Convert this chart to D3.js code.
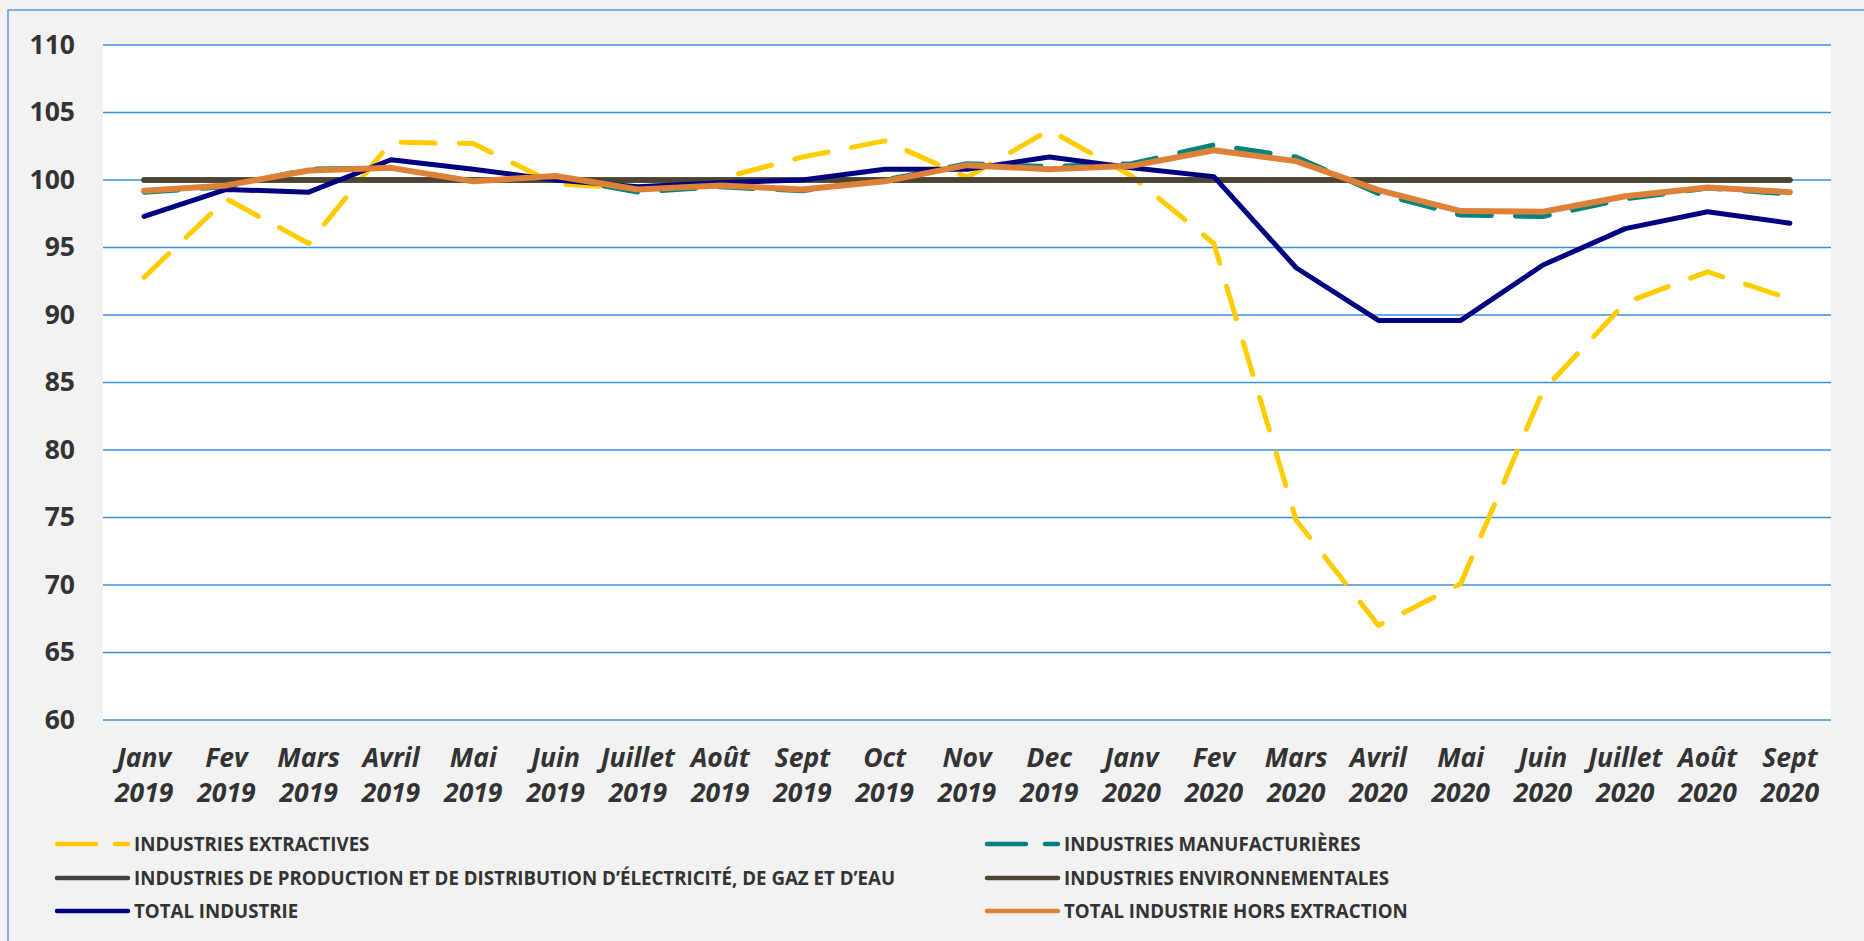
<!DOCTYPE html>
<html>
<head>
<meta charset="utf-8">
<script src="https://cdn.jsdelivr.net/npm/d3@7"></script>
<style>
  body { margin: 0; background: #f2f2f2; }
  svg { display: block; }
  text { font-family: 'Open Sans', 'DejaVu Sans', sans-serif; fill: #333; }
</style>
</head>
<body>
<svg id="canvas" width="1864" height="941"></svg>
<script>
const months = ['Janv', 'Fev', 'Mars', 'Avril', 'Mai', 'Juin', 'Juillet', 'Août', 'Sept', 'Oct', 'Nov', 'Dec',
  'Janv', 'Fev', 'Mars', 'Avril', 'Mai', 'Juin', 'Juillet', 'Août', 'Sept'];
const years = ['2019', '2019', '2019', '2019', '2019', '2019', '2019', '2019', '2019', '2019', '2019', '2019',
  '2020', '2020', '2020', '2020', '2020', '2020', '2020', '2020', '2020'];

const extractives = [92.8, 98.6, 95.3, 102.8, 102.7, 99.7, 99.4, 100.1, 101.7, 102.9, 100.2, 103.7,
  100.3, 95.3, 74.8, 67.0, 70.1, 84.4, 90.9, 93.2, 91.2];
const manufacturieres = [99.1, 99.5, 100.8, 100.9, 99.9, 100.2, 99.1, 99.5, 99.2, 100.0, 101.2, 101.0,
  101.2, 102.6, 101.7, 99.0, 97.4, 97.3, 98.6, 99.4, 98.95];
const electricite = [100, 100, 100, 100, 100, 100, 100, 100, 100, 100, 100, 100,
  100, 100, 100, 100, 100, 100, 100, 100, 100];
const environnementales = [100, 100, 100, 100, 100, 100, 100, 100, 100, 100, 100, 100,
  100, 100, 100, 100, 100, 100, 100, 100, 100];
const totalIndustrie = [97.3, 99.3, 99.1, 101.5, 100.8, 100.0, 99.5, 99.8, 100.0, 100.8, 100.8, 101.7,
  100.9, 100.25, 93.5, 89.6, 89.6, 93.7, 96.4, 97.65, 96.8];
const horsExtraction = [99.2, 99.6, 100.7, 100.9, 99.9, 100.3, 99.3, 99.6, 99.3, 99.9, 101.1, 100.8,
  101.05, 102.2, 101.4, 99.25, 97.7, 97.65, 98.8, 99.45, 99.1];

const yTicks = [60, 65, 70, 75, 80, 85, 90, 95, 100, 105, 110];

const series = [
  { name: 'INDUSTRIES EXTRACTIVES', values: extractives, color: '#ffcc00', width: 5, dash: '34 24' },
  { name: 'INDUSTRIES MANUFACTURIÈRES', values: manufacturieres, color: '#00827f', width: 5, dash: '34 24' },
  { name: 'INDUSTRIES DE PRODUCTION ET DE DISTRIBUTION D’ÉLECTRICITÉ, DE GAZ ET D’EAU', values: electricite, color: '#404040', width: 5.5, dash: null },
  { name: 'INDUSTRIES ENVIRONNEMENTALES', values: environnementales, color: '#4b4430', width: 5.5, dash: null },
  { name: 'TOTAL INDUSTRIE', values: totalIndustrie, color: '#000080', width: 5, dash: null },
  { name: 'TOTAL INDUSTRIE HORS EXTRACTION', values: horsExtraction, color: '#de8138', width: 6, dash: null }
];

const svg = d3.select('#canvas');
const plotLeft = 103;
const plotRight = 1831;
const plotTop = 45;
const plotBottom = 720;

// frame
svg.append('rect')
  .attr('x', 8).attr('y', 10)
  .attr('width', 1900).attr('height', 1000)
  .attr('fill', '#f2f2f2')
  .attr('stroke', '#5b9bd5')
  .attr('stroke-width', 1.5);

const x = d3.scaleBand()
  .domain(d3.range(months.length))
  .range([plotLeft, plotRight]);

const y = d3.scaleLinear()
  .domain([60, 110])
  .range([plotBottom, plotTop]);

svg.append('rect')
  .attr('x', plotLeft).attr('y', plotTop)
  .attr('width', plotRight - plotLeft).attr('height', plotBottom - plotTop)
  .attr('fill', '#fff');

// gridlines
svg.append('g')
  .selectAll('line')
  .data(yTicks)
  .enter()
  .append('line')
  .attr('x1', plotLeft).attr('x2', plotRight)
  .attr('y1', (d) => y(d)).attr('y2', (d) => y(d))
  .attr('stroke', '#3c8ddb')
  .attr('stroke-width', 1.5);

// y labels
const yAxis = d3.axisLeft(y).tickValues(yTicks).tickSize(0).tickPadding(0);
svg.append('g')
  .attr('transform', 'translate(75,0)')
  .call(yAxis)
  .call((g) => g.select('.domain').remove())
  .selectAll('text')
  .style('font-family', "'Open Sans', sans-serif")
  .style('font-size', '26.5px')
  .style('font-weight', 700)
  .attr('fill', '#333');

// x labels
const xl = svg.append('g')
  .selectAll('text')
  .data(months)
  .enter()
  .append('text')
  .attr('text-anchor', 'middle')
  .style('font-size', '26.5px')
  .style('font-weight', 700)
  .style('font-style', 'italic');
xl.append('tspan').attr('x', (d, i) => x(i) + x.bandwidth() / 2).attr('y', 767).text((d) => d);
xl.append('tspan').attr('x', (d, i) => x(i) + x.bandwidth() / 2).attr('y', 802).text((d, i) => years[i]);

// lines
const line = d3.line()
  .x((d, i) => x(i) + x.bandwidth() / 2)
  .y((d) => y(d));

svg.append('g')
  .selectAll('path')
  .data(series)
  .enter()
  .append('path')
  .attr('d', (d) => line(d.values))
  .attr('fill', 'none')
  .attr('stroke', (d) => d.color)
  .attr('stroke-width', (d) => d.width)
  .attr('stroke-dasharray', (d) => d.dash)
  .attr('stroke-linejoin', 'round')
  .attr('stroke-linecap', 'round');

// legend
const legendPos = [
  [57, 844], [987, 844],
  [57, 878], [987, 878],
  [57, 911], [987, 911]
];
const legend = svg.append('g')
  .selectAll('g')
  .data(series)
  .enter()
  .append('g')
  .attr('transform', (d, i) => `translate(${legendPos[i][0]},${legendPos[i][1]})`);

legend.append('line')
  .attr('x1', 0).attr('x2', 71)
  .attr('y1', 0).attr('y2', 0)
  .attr('stroke', (d) => d.color)
  .attr('stroke-width', 4.5)
  .attr('stroke-dasharray', (d) => d.dash ? '39 19' : null)
  .attr('stroke-linecap', 'round');

legend.append('text')
  .attr('x', 77)
  .attr('y', 0)
  .attr('dy', '0.35em')
  .style('font-size', '18.7px')
  .style('font-weight', 700)
  .text((d) => d.name);
</script>
</body>
</html>
